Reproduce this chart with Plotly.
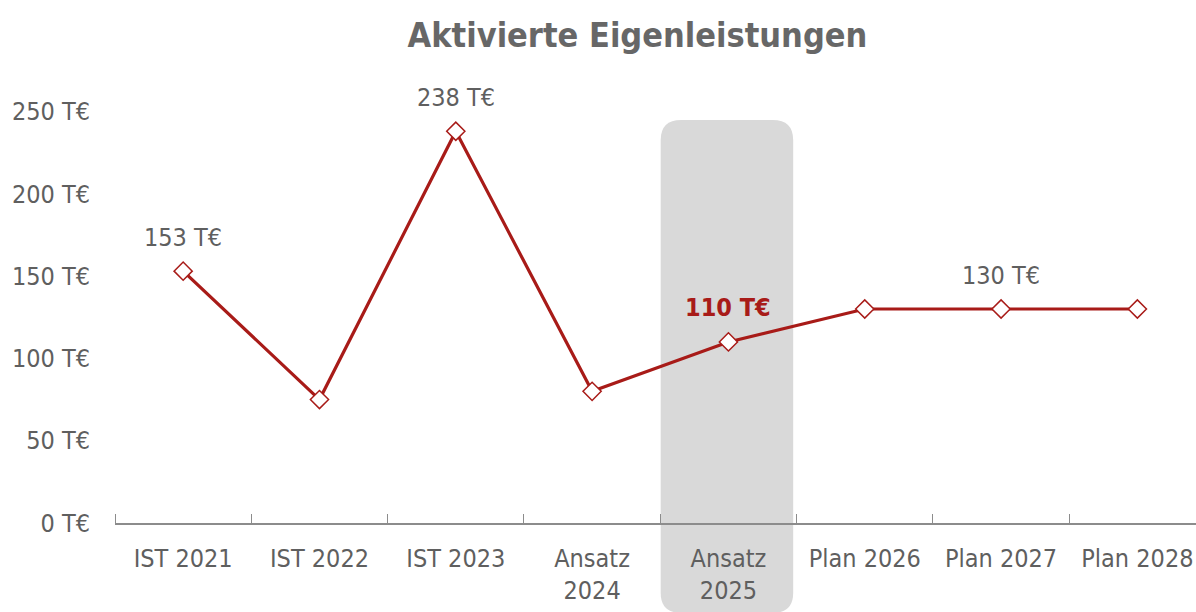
import plotly.graph_objects as go

categories = ["IST 2021", "IST 2022", "IST 2023", "Ansatz<br>2024", "Ansatz<br>2025",
              "Plan 2026", "Plan 2027", "Plan 2028"]
values = [153, 75, 238, 80, 110, 130, 130, 130]
label_idx = [0, 2, 4, 6]
highlight_idx = 4
y_ticks = [0, 50, 100, 150, 200, 250]
y_ticktext = [f"{v} T€" for v in y_ticks]

FONT = "DejaVu Sans Condensed"
RED = "#A81B18"
GREY_TXT = "#5F5F5F"

x = list(range(len(categories)))
boundaries = [i - 0.5 for i in range(len(categories) + 1)]

fig = go.Figure()
fig.add_trace(go.Scatter(
    x=x, y=values, mode="lines+markers",
    line=dict(color=RED, width=3.2),
    marker=dict(symbol="diamond", size=14, color="white",
                line=dict(color=RED, width=1.5)),
    hoverinfo="skip", showlegend=False, cliponaxis=False,
))

for i in label_idx:
    hl = (i == highlight_idx)
    fig.add_annotation(
        x=x[i], y=values[i], text=(f"<b>{values[i]} T€</b>" if hl else f"{values[i]} T€"),
        showarrow=False, yshift=34, yanchor="middle",
        font=dict(family=FONT, size=25, color=RED if hl else GREY_TXT),
    )

# highlight box behind Ansatz 2025 (rounded rect)
x0 = x[highlight_idx] - 0.5 + 0.003
x1 = x[highlight_idx] + 0.475
y0 = -0.21
y1 = 0.9416
r = 0.047
rx = 0.15
path = (f"M {x0},{y0 + r} L {x0},{y1 - r} Q {x0},{y1} {x0 + rx},{y1} "
        f"L {x1 - rx},{y1} Q {x1},{y1} {x1},{y1 - r} L {x1},{y0 + r} "
        f"Q {x1},{y0} {x1 - rx},{y0} L {x0 + rx},{y0} Q {x0},{y0} {x0},{y0 + r} Z")
fig.add_shape(type="path", path=path, xref="x", yref="paper",
              fillcolor="#D9D9D9", line=dict(width=0), layer="below")

fig.update_layout(
    width=1196, height=612,
    paper_bgcolor="white", plot_bgcolor="rgba(0,0,0,0)",
    margin=dict(l=115, r=0, t=95, b=89, autoexpand=False),
    title=dict(text="<b>Aktivierte Eigenleistungen</b>", x=0.533, xanchor="center",
               y=0.943, yanchor="middle", automargin=False,
               font=dict(family=FONT, size=34, color="#676767")),
    font=dict(family=FONT, size=25, color=GREY_TXT),
    xaxis=dict(
        tickmode="array", tickvals=x, ticktext=categories,
        range=[-0.5, 7.43], showgrid=False, zeroline=False, automargin=False,
        showline=True, linecolor="#8C8C8C", linewidth=1.5,
        ticks="",
        minor=dict(tickmode="array", tickvals=boundaries, ticks="inside",
                   ticklen=9, tickcolor="#8C8C8C", tickwidth=1, showgrid=False),
        tickfont=dict(family=FONT, size=25, color=GREY_TXT),
        ticklabelstandoff=12,
    ),
    yaxis=dict(
        range=[0, 260], tickmode="array", tickvals=y_ticks, ticktext=y_ticktext,
        showgrid=False, zeroline=False, showline=False, automargin=False,
        tickfont=dict(family=FONT, size=25, color=GREY_TXT),
        ticklabelstandoff=24,
    ),
)

fig.write_html("out.html", config={"displayModeBar": False},
               post_script="document.body.style.margin='0';document.body.style.overflow='hidden';")
